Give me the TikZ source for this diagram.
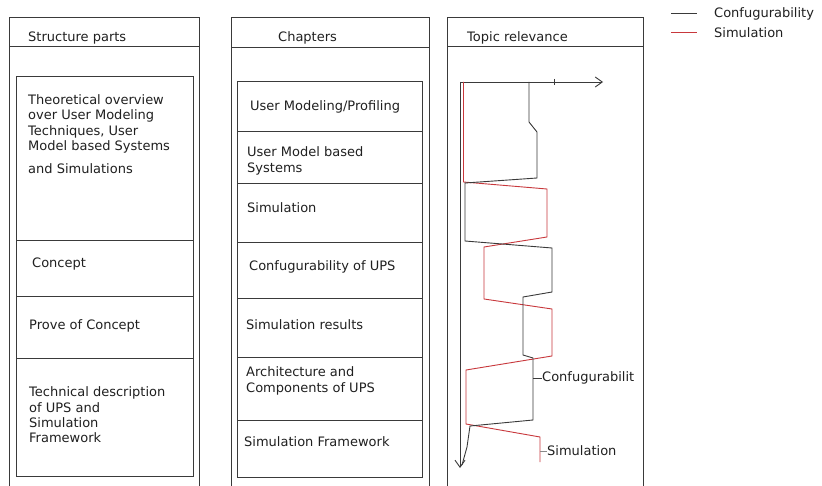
\documentclass[tikz,border=0pt]{standalone}
\usepackage{fontspec}
\setmainfont{DejaVu Sans}
\usetikzlibrary{arrows.meta}
\definecolor{ink}{HTML}{3A3A3A}
\definecolor{txt}{HTML}{202020}
\definecolor{simred}{HTML}{C8383C}
\tikzset{
  frame/.style={draw=ink, line width=0.9pt},
  lbl/.style={anchor=west, inner sep=0pt, text=txt, align=left,
    font=\fontsize{13}{15.3}\selectfont},
  conf/.style={draw=ink, line width=0.9pt, line join=miter},
  simu/.style={draw=simred, line width=0.9pt, line join=miter},
  axis/.style={draw=ink, line width=0.9pt,
    -{Straight Barb[length=7pt,width=10pt]}},
}
\begin{document}
\begin{tikzpicture}[x=1pt,y=-1pt]
\useasboundingbox (0,0) rectangle (822,486);
\fill[white] (0,0) rectangle (822,486);

% ---- outer columns (open at the bottom) ----
\draw[frame] (9.3,486) -- (9.3,17) -- (199.5,17) -- (199.5,486);
\draw[frame] (9.3,46) -- (199.5,46);
\draw[frame] (231.7,486) -- (231.7,17) -- (429,17) -- (429,486);
\draw[frame] (231.7,47) -- (429,47);
\draw[frame] (447,486) -- (447,17) -- (643,17) -- (643,486);
\draw[frame] (447,46) -- (643,46);

% ---- column headers ----
\node[lbl] (hstruct) at (28,38) {Structure parts};
\node[lbl] (hchap) at (278,38) {Chapters};
\node[lbl] (htopic) at (467,38) {Topic relevance};

% ---- structure parts ----
\draw[frame] (16.7,76) rectangle (193,476);
\draw[frame] (16.7,240.5) -- (193,240.5);
\draw[frame] (16.7,296) -- (193,296);
\draw[frame] (16.7,358) -- (193,358);
\node[lbl] (s1) at (28,124) {Theoretical overview\\over User Modeling\\Techniques, User\\Model based Systems};
\node[lbl] (s1b) at (28,169) {and Simulations};
\node[lbl] (s2) at (32,264) {Concept};
\node[lbl] (s3) at (29,326) {Prove of Concept};
\node[lbl] (s4) at (29,415) {Technical description\\of UPS and\\Simulation\\Framework};

% ---- chapters ----
\draw[frame] (237.7,81) rectangle (422,477);
\foreach \yy in {131,183,242,298,357,420}
  \draw[frame] (237.7,\yy) -- (422,\yy);
\node[lbl] (c1) at (250,107) {User Modeling/Profiling};
\node[lbl] (c2) at (247,161) {User Model based\\Systems};
\node[lbl] (c3) at (247,208) {Simulation};
\node[lbl] (c4) at (249,267) {Confugurability of UPS};
\node[lbl] (c5) at (246,325) {Simulation results};
\node[lbl] (c6) at (246,381) {Architecture and\\Components of UPS};
\node[lbl] (c7) at (244,442) {Simulation Framework};

% ---- topic relevance chart ----
\coordinate (o) at (460,82);
\coordinate (xend) at (603,82);
\coordinate (yend) at (460,468);
\draw[axis] (o) -- (xend);
\draw[axis] (o) -- (yend);
\draw[conf] (554,79) -- (554,85);

\draw[simu] (463.5,82) -- (463.5,182) -- (547,189) -- (547,237) -- (484,247)
  -- (484,299) -- (552,309) -- (552,356) -- (466,370) -- (466,424)
  -- (540,437) -- (540,462);
\draw[conf] (529,82) -- (529,122) -- (537,132) -- (537,178) -- (465,183)
  -- (465,241) -- (552,248) -- (552,292) -- (523,297) -- (523,355)
  -- (533,358) -- (533,420) -- (470,426) -- (467,447) -- (462,465);

\coordinate (cmark) at (533,378);
\coordinate (smark) at (540,451);
\node[lbl] (cl) at (542,378) {Confugurabilit};
\node[lbl] (sl) at (547,451) {Simulation};
\draw[conf] (cmark) -- (cl.west);
\draw[draw=ink!60, line width=0.6pt] (smark) -- (sl.west);

% ---- legend ----
\coordinate (lk1) at (671,13);
\coordinate (lk2) at (697,13);
\coordinate (lr1) at (671,32);
\coordinate (lr2) at (697,32);
\draw[conf] (lk1) -- (lk2);
\draw[simu] (lr1) -- (lr2);
\node[lbl] (lc) at (714,14) {Confugurability};
\node[lbl] (ls) at (714,33) {Simulation};
\end{tikzpicture}
\end{document}
